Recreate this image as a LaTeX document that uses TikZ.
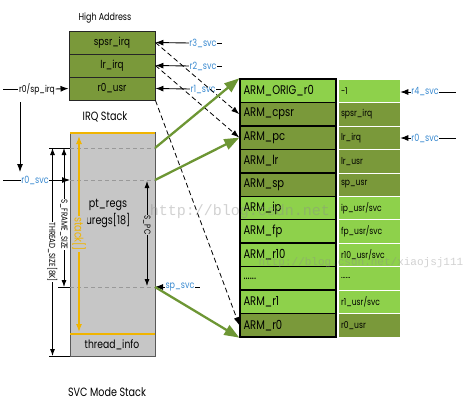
\documentclass[tikz,border=0pt]{standalone}
\usepackage{fontspec}
\setmainfont{Poppins}[FakeStretch=0.8]
\newfontfamily\wmfont{Liberation Mono}
\usetikzlibrary{arrows.meta,calc}
\definecolor{olivec}{HTML}{7A993A}
\definecolor{brightc}{HTML}{8ED14B}
\definecolor{bluec}{HTML}{3A8AD0}
\definecolor{grayc}{HTML}{C6C6C6}
\definecolor{yellowc}{HTML}{F0B400}
\definecolor{arrowg}{HTML}{6D9634}
\begin{document}
\begin{tikzpicture}[x=1pt,y=-1pt,
  topcell/.style={draw=black!85,line width=0.9,fill=olivec,minimum width=86,minimum height=23,inner sep=0,font=\fontsize{11}{11}\selectfont},
  armcell/.style={draw=black,line width=1.4,minimum height=23.45,text width=89,align=left,inner xsep=3.5,inner ysep=0,font=\fontsize{12.5}{12.5}\selectfont},
  valcell/.style={draw=white,line width=0.6,minimum height=23.45,text width=56,align=left,inner xsep=3,inner ysep=0,font=\fontsize{9.5}{9.5}\selectfont},
  bluelab/.style={text=bluec,inner sep=0.5,font=\fontsize{10}{10}\selectfont},
  blk/.style={-{Latex[length=8,width=6]},line width=0.9},
  dim/.style={{Latex[length=7,width=5]}-{Latex[length=7,width=5]},line width=0.8},
  dashc/.style={-{Latex[length=8,width=5.5]},line width=0.8,dash pattern=on 5pt off 3pt},
  greenarr/.style={-{Triangle[length=15,width=11]},line width=2.3,draw=arrowg},
  gdash/.style={draw=black!40,line width=0.8,dash pattern=on 4pt off 3pt},
  rotlab/.style={rotate=-90,inner sep=0.6,font=\fontsize{8.8}{8.8}\selectfont},
  wm/.style={text=black!45,text opacity=0.4,inner sep=0}
]
\useasboundingbox (0,0) rectangle (470,401);

% ---------- IRQ stack ----------
\node[font=\fontsize{10}{10}\selectfont] (high) at (105,18) {High Address};
\node[topcell] (spsr) at (112,42.5) {spsr\_irq};
\node[topcell] (lrirq) at (112,65.5) {lr\_irq};
\node[topcell] (r0usr) at (112,88.5) {r0\_usr};
\node[font=\fontsize{12}{12}\selectfont] (irq) at (105,117) {IRQ Stack};

\node[bluelab] (r3) at (203,43) {r3\_svc};
\node[bluelab] (r2) at (203,66) {r2\_svc};
\node[bluelab] (r1) at (203,89) {r1\_svc};
\foreach \l/\b in {r3/spsr,r2/lrirq,r1/r0usr}{
  \draw[blk] (\l.west) -- (\b.east);
  \draw[line width=0.9] (\l.east) -- ++(5,0);
}

\coordinate (spirqL) at (3,89);
\node[inner sep=0.5,font=\fontsize{9.5}{9.5}\selectfont] (spirq) at (37,89) {r0/sp\_irq};
\draw[line width=0.9] (spirqL) -- (spirq.west);
\draw[blk] (spirq.east) -- (r0usr.west);

\coordinate (vtop) at (20,102);
\coordinate (vbot) at (20,172);
\draw[blk] (vtop) -- (vbot);

% ---------- SVC stack ----------
\node[draw=black!65,line width=1,fill=grayc,minimum width=85,minimum height=224,inner sep=0] (svc) at (112.5,244) {};
\coordinate (a148w) at (70,148); \coordinate (a148e) at (155,148);
\coordinate (a180w) at (70,180); \coordinate (a180e) at (155,180);
\coordinate (a287w) at (70,287); \coordinate (a287e) at (155,287);
\draw[gdash] (a148w) -- (a148e);
\draw[gdash] (a180w) -- (a180e);
\draw[gdash] (a287w) -- (a287e);
\coordinate (ytl) at (70,133); \coordinate (ytr) at (155,133);
\coordinate (ybl) at (70,334); \coordinate (ybr) at (155,334);
\draw[yellowc,line width=2] (ytl) -- (ytr);
\draw[yellowc,line width=2] (ybl) -- (ybr);
\node[font=\fontsize{11.5}{11.5}\selectfont] (tinfo) at (112,345) {thread\_info};
\node[align=center,font=\fontsize{12}{17}\selectfont] (ptregs) at (108,214) {pt\_regs\\uregs[18]};

\coordinate (st1) at (79,136); \coordinate (st2) at (79,332);
\draw[yellowc,line width=1.2,{Latex[length=8,width=6]}-{Latex[length=8,width=6]}] (st1) -- (st2)
  node[midway,rotate=-90,fill=grayc,text=yellowc,inner sep=1,font=\fontsize{12}{12}\selectfont] (stk) {stack[]};

\coordinate (pc1) at (147,181); \coordinate (pc2) at (147,286);
\draw[dim] (pc1) -- (pc2) node[pos=0.42,rotlab,fill=grayc] (spc) {S\_PC};

% dimension lines
\coordinate (e1a) at (49,148); \coordinate (e2a) at (49,356); \coordinate (e3a) at (58,287);
\coordinate (e1b) at (70,148); \coordinate (e2b) at (70,356); \coordinate (e3b) at (70,287);
\draw[line width=0.8] (e1a) -- (e1b);
\draw[line width=0.8] (e2a) -- (e2b);
\draw[line width=0.8] (e3a) -- (e3b);
\coordinate (t1) at (52.5,148); \coordinate (t2) at (52.5,356);
\draw[dim] (t1) -- (t2) node[pos=0.5,rotlab,fill=white] (tsz) {THREAD\_SIZE[8K]};
\coordinate (f1) at (64,148); \coordinate (f2) at (64,287);
\draw[dim] (f1) -- (f2) node[pos=0.55,rotlab,fill=white] (fsz) {S\_FRAME\_SIZE};

\coordinate (r0svcL) at (3,180);
\node[bluelab] (r0svc) at (35,180) {r0\_svc};
\draw[line width=0.9] (r0svcL) -- (r0svc.west);
\draw[blk] (r0svc.east) -- (a180w);

\node[bluelab] (spsvc) at (180,287) {sp\_svc};
\draw[blk] (spsvc.west) -- (a287e);
\draw[line width=0.9] (spsvc.east) -- ++(5,0);

\node[font=\fontsize{12}{12}\selectfont] (svcm) at (107,392) {SVC Mode Stack};

% ---------- pt_regs frame ----------
\foreach \i/\t/\v/\c in {
  0/{ARM\_ORIG\_r0}/{-1}/brightc,
  1/{ARM\_cpsr}/{spsr\_irq}/olivec,
  2/{ARM\_pc}/{lr\_irq}/olivec,
  3/{ARM\_lr}/{lr\_usr}/olivec,
  4/{ARM\_sp}/{sp\_usr}/olivec,
  5/{ARM\_ip}/{ip\_usr/svc}/brightc,
  6/{ARM\_fp}/{fp\_usr/svc}/brightc,
  7/{ARM\_r10}/{r10\_usr/svc}/brightc,
  8/{......}/{......}/brightc,
  9/{ARM\_r1}/{r1\_usr/svc}/brightc,
  10/{ARM\_r0}/{r0\_usr}/olivec}{
  \node[valcell,fill=\c] (val\i) at (369,{79+23.45*\i+11.725}) {\v};
  \node[armcell,fill=\c] (arm\i) at (288,{79+23.45*\i+11.725}) {\t};
}

\node[bluelab] (r4svc) at (425,92) {r4\_svc};
\draw[blk] (r4svc.west) -- (val0.east |- r4svc.west);
\draw[line width=0.9] (r4svc.east) -- ++(17,0);
\node[bluelab] (r0svcb) at (425,138) {r0\_svc};
\draw[blk] (r0svcb.west) -- (val2.east |- r0svcb.west);
\draw[line width=0.9] (r0svcb.east) -- ++(17,0);

% ---------- connectors ----------
\draw[dashc] (spsr.east) -- (arm1.west);
\draw[dashc] (lrirq.east) -- (arm2.west);
\draw[dashc] (r0usr.south east) -- (arm10.west);
\draw[greenarr] (a148e) -- (arm0.north west);
\draw[greenarr] (a180e) -- (arm2.west);
\draw[greenarr] (a287e) -- (arm10.south west);

% ---------- watermarks ----------
\node[wm,font=\wmfont\fontsize{15}{15}\selectfont] (wm1) at (240,212) {http://blog.csdn.net};
\node[wm,font=\wmfont\fontsize{11}{11}\selectfont] (wm2) at (361,263) {http://blog.csdn.net/xiaojsj111};
\end{tikzpicture}
\end{document}
